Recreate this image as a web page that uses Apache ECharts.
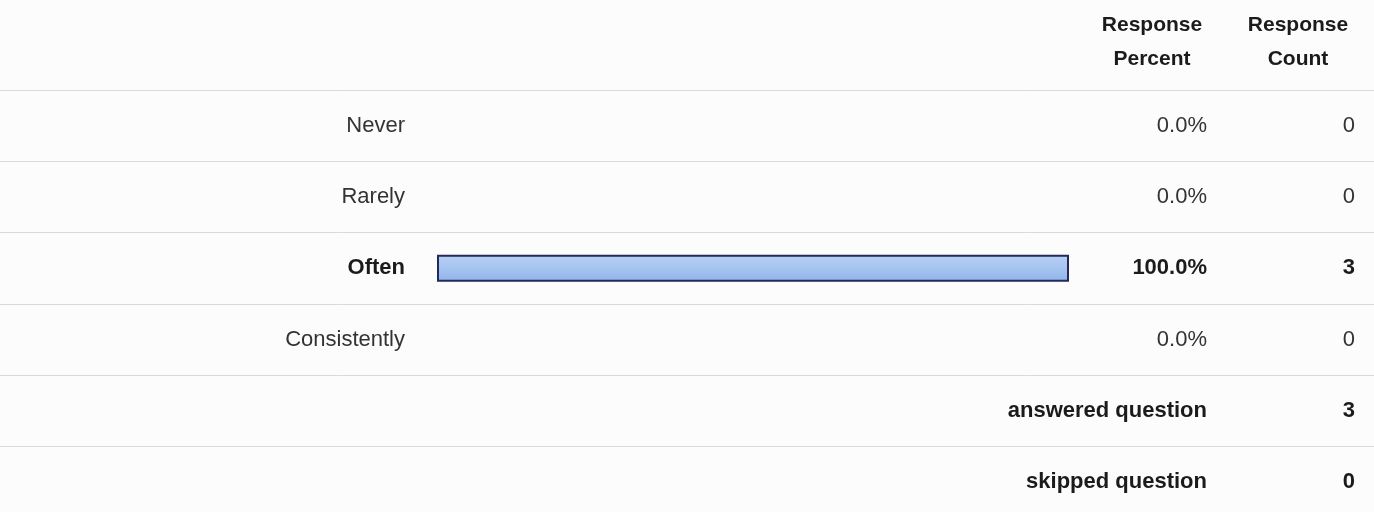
<!DOCTYPE html>
<html>
<head>
<meta charset="utf-8">
<script src="https://cdn.jsdelivr.net/npm/echarts@6/dist/echarts.min.js"></script>
<style>
  html, body { margin: 0; padding: 0; background: #fcfcfc; }
  #chart { width: 1374px; height: 512px; }
</style>
</head>
<body>
<div id="chart"></div>
<script>
// answer choices and their results
var categories = ['Never', 'Rarely', 'Often', 'Consistently'];
var percents = [0.0, 0.0, 100.0, 0.0];
var counts = [0, 0, 3, 0];
// summary rows under the table
var summaryLabels = ['answered question', 'skipped question'];
var summaryCounts = [3, 0];
var headers = ['Response\nPercent', 'Response\nCount'];

var FONT = "'Liberation Sans', Arial, sans-serif";
var rows = categories.concat(summaryLabels);
var boldRow = percents.indexOf(Math.max.apply(null, percents));

function isBold(i) {
  return i === boldRow || i >= categories.length;
}

var rich = {
  n: { fontSize: 22, fontFamily: FONT, color: '#333' },
  b: { fontSize: 22, fontFamily: FONT, color: '#1b1b1b', fontWeight: 'bold' }
};

// empty bars get no outline
var barData = percents.map(function (p) {
  return p > 0 ? p : { value: p, itemStyle: { borderWidth: 0 } };
}).concat(['-', '-']);

var chart = echarts.init(document.getElementById('chart'));
chart.setOption({
  backgroundColor: '#fcfcfc',
  animation: false,
  grid: [
    // full width grid: row lines + right columns
    { left: 0, right: 0, top: 90, height: 428, outerBoundsMode: 'none' },
    // bar grid
    { left: 437, right: 305, top: 90, height: 428, outerBoundsMode: 'none' }
  ],
  xAxis: [
    { gridIndex: 0, type: 'value', show: false, min: 0, max: 1 },
    { gridIndex: 1, type: 'value', show: false, min: 0, max: 100 }
  ],
  yAxis: [
    {
      gridIndex: 0, type: 'category', data: rows, inverse: true,
      axisLine: { show: false }, axisTick: { show: false }, axisLabel: { show: false },
      splitLine: { show: true, interval: 0, lineStyle: { color: '#d9d9d9', width: 1 } }
    },
    {
      gridIndex: 0, type: 'category', data: rows, inverse: true, position: 'right',
      axisLine: { show: false }, axisTick: { show: false }, splitLine: { show: false },
      axisLabel: {
        inside: true, margin: 167, interval: 0, rich: rich,
        formatter: function (v, i) {
          var t = i < categories.length ? percents[i].toFixed(1) + '%' : summaryLabels[i - categories.length];
          return '{' + (isBold(i) ? 'b' : 'n') + '|' + t + '}';
        }
      }
    },
    {
      gridIndex: 0, type: 'category', data: rows, inverse: true, position: 'right',
      axisLine: { show: false }, axisTick: { show: false }, splitLine: { show: false },
      axisLabel: {
        inside: true, margin: 19, interval: 0, rich: rich,
        formatter: function (v, i) {
          var t = i < categories.length ? counts[i] : summaryCounts[i - categories.length];
          return '{' + (isBold(i) ? 'b' : 'n') + '|' + t + '}';
        }
      }
    },
    {
      gridIndex: 1, type: 'category', data: rows, inverse: true,
      axisLine: { show: false }, axisTick: { show: false }, splitLine: { show: false },
      axisLabel: {
        margin: 32, interval: 0, rich: rich,
        formatter: function (v, i) {
          if (i >= categories.length) return '';
          return '{' + (i === boldRow ? 'b' : 'n') + '|' + v + '}';
        }
      }
    }
  ],
  series: [{
    type: 'bar',
    xAxisIndex: 1,
    yAxisIndex: 3,
    barWidth: 27,
    data: barData,
    itemStyle: {
      color: new echarts.graphic.LinearGradient(0, 0, 0, 1, [
        { offset: 0, color: '#b7d1f6' },
        { offset: 0.5, color: '#a6c4f0' },
        { offset: 1, color: '#8fb3ea' }
      ]),
      borderColor: '#25295a',
      borderWidth: 2
    },
    silent: true
  }],
  graphic: [
    {
      type: 'text', x: 1152, y: 42,
      style: {
        text: headers[0], font: 'bold 21px ' + FONT, fill: '#1b1b1b',
        align: 'center', verticalAlign: 'middle', lineHeight: 34
      }
    },
    {
      type: 'text', x: 1298, y: 42,
      style: {
        text: headers[1], font: 'bold 21px ' + FONT, fill: '#1b1b1b',
        align: 'center', verticalAlign: 'middle', lineHeight: 34
      }
    }
  ]
});
</script>
</body>
</html>
